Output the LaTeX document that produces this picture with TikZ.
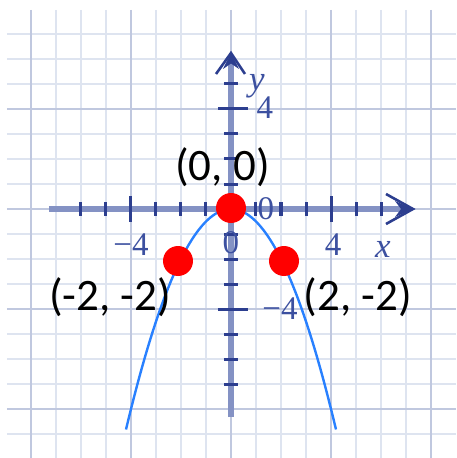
\documentclass[tikz,border=0pt]{standalone}
\usepackage{fontspec}
\setmainfont{Carlito}
\newfontfamily\tickfont{Liberation Serif}
\definecolor{gridminor}{RGB}{222,228,240}
\definecolor{gridmajor}{RGB}{192,200,223}
\definecolor{axisblue}{RGB}{132,146,196}
\definecolor{navy}{RGB}{44,62,143}
\definecolor{ticklab}{RGB}{60,80,160}
\definecolor{curveblue}{RGB}{40,128,255}
\begin{document}
\begin{tikzpicture}[x=25pt,y=25pt,
  minorline/.style={draw=gridminor,line width=2.6pt},
  majorline/.style={draw=gridmajor,line width=2.8pt},
  axisline/.style={draw=axisblue,line width=6pt},
  tickmark/.style={draw=navy,line width=3pt},
  arrowarm/.style={draw=navy,line width=2.6pt,line join=miter},
  arrowfill/.style={fill=navy},
  ticklabel/.style={text=ticklab,font=\tickfont\fontsize{33}{33}\selectfont,inner sep=0pt},
  axislabel/.style={text=ticklab,font=\tickfont\itshape\fontsize{35}{35}\selectfont,inner sep=0pt},
  dot/.style={circle,fill=red,minimum size=30pt,inner sep=0pt},
  ptlabel/.style={text=black,font=\fontsize{45}{45}\selectfont,inner sep=0pt},
  curveline/.style={draw=curveblue,line width=2.4pt}]
\useasboundingbox (-9.24,-9.96) rectangle (9.0,8.36);
% grid
\foreach \x in {-7,-6,-5,-3,-2,-1,1,2,3,5,6,7}
  \draw[minorline] (\x,7.96) -- (\x,-9.96);
\foreach \y in {-9,-7,-6,-5,-3,-2,-1,1,2,3,5,6,7}
  \draw[minorline] (-8.96,\y) -- (9.0,\y);
\foreach \x in {-8,-4,0,4,8}
  \draw[majorline] (\x,7.96) -- (\x,-9.96);
\foreach \y in {-8,-4,0,4}
  \draw[majorline] (-8.96,\y) -- (9.0,\y);
% axes
\coordinate (xs) at (-7.28,0);
\coordinate (xe) at (7.0,0);
\coordinate (ys) at (0,-8.32);
\coordinate (ye) at (0,6.0);
\draw[axisline] (xs) -- (xe);
\draw[axisline] (ys) -- (ye);
% ticks
\foreach \x in {-6,-5,-3,-2,-1,1,2,3,5,6}
  \draw[tickmark] (\x,0.28) -- (\x,-0.28);
\foreach \x in {-4,4}
  \draw[tickmark] (\x,0.52) -- (\x,-0.52);
\foreach \y in {-7,-6,-5,-3,-2,-1,1,2,3,5}
  \draw[tickmark] (-0.28,\y) -- (0.28,\y);
\foreach \y in {-4,4}
  \draw[tickmark] (-0.52,\y) -- (0.68,\y);
% arrowheads
\coordinate (xt) at (7.28,0);
\coordinate (yt) at (0,6.24);
\draw[arrowarm] (6.2,0.6) -- (xt) -- (6.2,-0.6);
\fill[arrowfill] (xt) -- (6.56,0.32) -- (6.8,0) -- (6.56,-0.32) -- cycle;
\draw[arrowarm] (-0.6,5.4) -- (yt) -- (0.56,5.4);
\fill[arrowfill] (yt) -- (-0.32,5.6) -- (0,5.82) -- (0.32,5.6) -- cycle;
% tick labels
\node[ticklabel] (lxm4) at (-4.0,-1.44) {−4};
\node[ticklabel] (lx4) at (4.08,-1.42) {4};
\node[axislabel] (lx) at (6.08,-1.6) {x};
\node[ticklabel] (l0) at (1.4,0.0) {0};
\node[ticklabel] (l0b) at (0.0,-1.36) {0};
\node[axislabel] (ly) at (1.04,4.9) {y};
\node[ticklabel] (ly4) at (1.36,4.04) {4};
\node[ticklabel] (lym4) at (1.96,-3.98) {−4};
% curve
\draw[curveline] plot[domain=-4.2:4.2,samples=81] (\x,{-\x*\x/2});
% points
\node[dot] (p0) at (0,0.04) {};
\node[dot] (pl) at (-2.12,-2.08) {};
\node[dot] (pr) at (2.12,-2.08) {};
\node[ptlabel] (t0) at (-0.34,1.66) {(0, 0)};
\node[ptlabel] (tl) at (-4.84,-3.52) {(-2, -2)};
\node[ptlabel] (tr) at (5.08,-3.52) {(2, -2)};
\end{tikzpicture}
\end{document}
